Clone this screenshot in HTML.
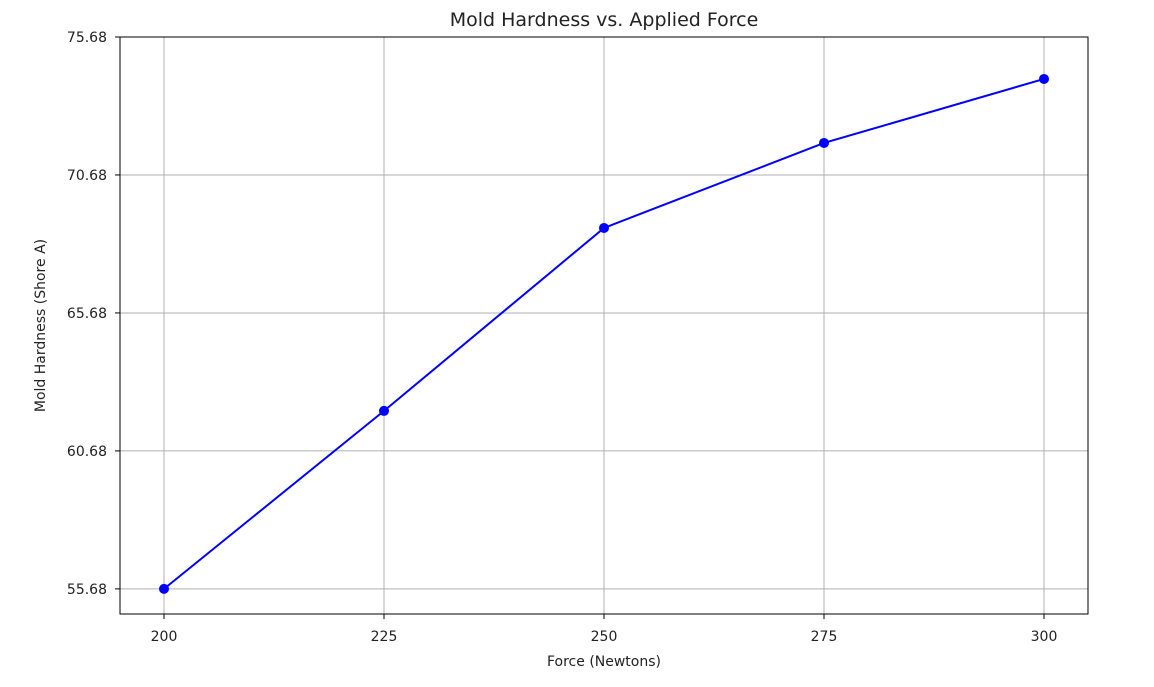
<!DOCTYPE html>
<html><head><meta charset="utf-8"><style>
body{margin:0;background:#fff;}
svg text{font-family:"DejaVu Sans","Liberation Sans",sans-serif;fill:#222;}
</style></head><body>
<svg id="chart" width="1154" height="682"></svg>
<script>
const categories=[200,225,250,275,300];
const hardness=[55.68,62.13,68.76,71.84,74.16];
const yTicks=[55.68,60.68,65.68,70.68,75.68];
const xTicks=[200,225,250,275,300];
const L=120,R=1088,T=37,B=614;
const xMin=195,xMax=305,yMin=54.77,yMax=75.68;
const xs=v=>L+(v-xMin)/(xMax-xMin)*(R-L);
const ys=v=>B-(v-yMin)/(yMax-yMin)*(B-T);
const svg=document.getElementById('chart');
const NS='http://www.w3.org/2000/svg';
function mk(tag,attrs,parent){const e=document.createElementNS(NS,tag);for(const k in attrs)e.setAttribute(k,attrs[k]);(parent||svg).appendChild(e);return e;}
xTicks.forEach(v=>{
 const g=mk('line',{x1:xs(v),x2:xs(v),y1:T,y2:B,stroke:'#b0b0b0','stroke-width':1});
 
 
 mk('line',{x1:xs(v),x2:xs(v),y1:B,y2:B+5,stroke:'#000'});
 const t=mk('text',{x:xs(v),y:B+27,'text-anchor':'middle','font-size':14});
 t.textContent=v;
 
 
});
yTicks.forEach(v=>{
 const g=mk('line',{x1:L,x2:R,y1:ys(v),y2:ys(v),stroke:'#b0b0b0','stroke-width':1});
 
 
 mk('line',{x1:L-5,x2:L,y1:ys(v),y2:ys(v),stroke:'#000'});
 const t=mk('text',{x:L-13,y:ys(v)+5,'text-anchor':'end','font-size':14});
 t.textContent=v.toFixed(2);
 
 
});
const frame=mk('rect',{x:L,y:T,width:R-L,height:B-T,fill:'none',stroke:'#000','stroke-width':1});


const line=mk('polyline',{points:categories.map((c,i)=>xs(c)+','+ys(hardness[i])).join(' '),fill:'none',stroke:'#0000ff','stroke-width':2});


categories.forEach((c,i)=>{
 const p=mk('circle',{cx:xs(c),cy:ys(hardness[i]),r:5,fill:'#0000ff'});
 
 
});
const title=mk('text',{x:(L+R)/2,y:26,'text-anchor':'middle','font-size':19});
title.textContent='Mold Hardness vs. Applied Force';


const xt=mk('text',{x:(L+R)/2,y:666,'text-anchor':'middle','font-size':14});
xt.textContent='Force (Newtons)';


const yt=mk('text',{x:0,y:0,'text-anchor':'middle','font-size':14,transform:'translate(45,'+(T+B)/2+') rotate(-90)'});
yt.textContent='Mold Hardness (Shore A)';


</script>
</body></html>
